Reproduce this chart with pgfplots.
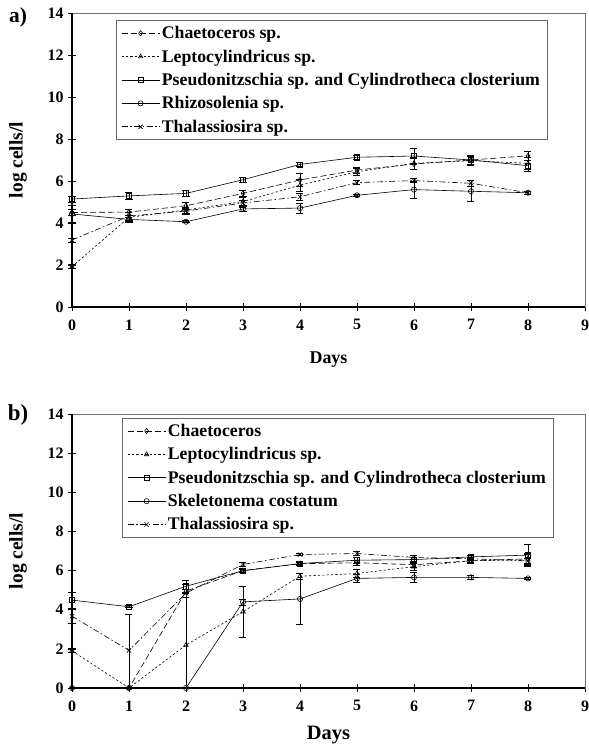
\documentclass[border=0pt]{standalone}
\usepackage{fontspec}
\setmainfont{Liberation Serif}
\usepackage{pgfplots}
\pgfplotsset{compat=1.18}
\newcommand{\tf}{\bfseries\fontsize{16}{19}\selectfont}
\newcommand{\lf}{\bfseries\fontsize{17.8}{20}\selectfont}
\pgfplotsset{
  myaxis/.style={
    scale only axis, width=513bp,
    xmin=0, xmax=9, ymin=0, ymax=14,
    xtick={0,...,9}, ytick={0,2,...,14},
    anchor=origin, clip=false,
    axis line style={draw=black!55, line width=0.6bp},
    tick style={black, line width=0.8bp},
    major tick length=8bp, tick align=center,
    xtick pos=bottom, ytick pos=left,
    tick label style={font=\tf},
    /pgf/number format/assume math mode=true,
    xticklabel style={yshift=-5bp},
    yticklabel style={xshift=-1bp},
    legend style={draw=black!60, line width=0.6bp, font=\lf, anchor=north west,
      row sep=5.6bp, inner xsep=5bp, inner ysep=4bp, cells={anchor=west}},
    legend image code/.code={\draw[mark repeat=2,mark phase=2,##1] plot coordinates {(0bp,0bp) (19bp,0bp) (38bp,0bp)};},
  },
  base/.style={black, line width=0.6bp, mark size=2.6bp,
      mark options={solid, fill=white},
      error bars/y dir=both, error bars/y explicit,
      error bars/error bar style={line width=0.6bp, solid},
      error bars/error mark options={rotate=90, mark size=3.5bp, line width=0.6bp, solid}},
  chae/.style={base, dash pattern=on 6bp off 3bp, mark=diamond},
  lept/.style={base, dash pattern=on 2.2bp off 2.2bp, mark=triangle},
  pseu/.style={base, solid, mark=square},
  rhiz/.style={base, solid, mark=o},
  thal/.style={base, dash pattern=on 6bp off 2.5bp on 1.5bp off 2.5bp, mark=x, mark size=3bp},
}
\begin{document}
\begin{tikzpicture}
\path[use as bounding box] (0,0) rectangle (589bp,750bp);
% ---------- panel a ----------
\begin{axis}[myaxis, height=294bp, at={(72bp,443bp)},
  legend style={at={(rel axis cs:0.0858,0.976)}}]
\addplot[chae] coordinates {(0,4.50)+-(0,0.15) (1,4.52)+-(0,0.15) (2,4.82)+-(0,0.15) (3,5.41)+-(0,0.15) (4,6.05)+-(0,0.3) (5,6.52)+-(0,0.15) (6,6.81)+-(0,0.25) (7,7.00)+-(0,0.2) (8,7.20)+-(0,0.2)};
\addlegendentry{Chaetoceros sp.}
\addplot[lept] coordinates {(0,1.92)+-(0,0.1) (1,4.27)+-(0,0.25) (2,4.62)+-(0,0.15) (3,5.02)+-(0,0.2) (4,5.80)+-(0,0.3) (5,6.44)+-(0,0.15) (6,6.84)+-(0,0.3) (7,6.97)+-(0,0.2) (8,6.84)+-(0,0.3)};
\addlegendentry{Leptocylindricus sp.}
\addplot[pseu] coordinates {(0,5.14)+-(0,0.15) (1,5.29)+-(0,0.15) (2,5.41)+-(0,0.15) (3,6.06)+-(0,0.1) (4,6.79)+-(0,0.1) (5,7.13)+-(0,0.1) (6,7.19)+-(0,0.35) (7,7.00)+-(0,0.2) (8,6.73)+-(0,0.25)};
\addlegendentry{Pseudonitzschia sp. and Cylindrotheca closterium}
\addplot[rhiz] coordinates {(0,4.43)+-(0,0.4) (1,4.17)+-(0,0.1) (2,4.06)+-(0,0.05) (3,4.67)+-(0,0.1) (4,4.71)+-(0,0.25) (5,5.32)+-(0,0.05) (6,5.59)+-(0,0.4) (7,5.51)+-(0,0.5) (8,5.44)+-(0,0.05)};
\addlegendentry{Rhizosolenia sp.}
\addplot[thal] coordinates {(0,3.19)+-(0,0.1) (1,4.33)+-(0,0.2) (2,4.57)+-(0,0.15) (3,4.95)+-(0,0.15) (4,5.25)+-(0,0.15) (5,5.92)+-(0,0.1) (6,6.02)+-(0,0.1) (7,5.89)+-(0,0.15) (8,5.44)+-(0,0.05)};
\addlegendentry{Thalassiosira sp.}
\draw[line width=1.6bp] (rel axis cs:0,1) -- (rel axis cs:0,0);
\draw[line width=1.1bp] (rel axis cs:0,0) -- (rel axis cs:1,0);
\node[font=\bfseries\fontsize{18}{21}\selectfont] at ([yshift=-53bp]rel axis cs:0.5,0) {Days};
\node[rotate=90, font=\bfseries\fontsize{19.5}{22}\selectfont] at ([xshift=-54bp]rel axis cs:0,0.5) {log cells/l};
\node[font=\bfseries\fontsize{21.5}{24}\selectfont] at ([xshift=-54bp,yshift=-4bp]rel axis cs:0,1) {a)};
\end{axis}
% ---------- panel b ----------
\begin{axis}[myaxis, height=274bp, at={(72bp,62bp)},
  legend style={at={(rel axis cs:0.0975,0.986)}}]
\addplot[chae] coordinates {(0,0) (1,0) (2,4.95)+-(0,0.1) (3,6.00)+-(0,0.1) (4,6.35)+-(0,0.1) (5,6.40)+-(0,0.15) (6,6.30)+-(0,0.15) (7,6.50)+-(0,0.1) (8,6.60)+-(0,0.3)};
\addlegendentry{Chaetoceros}
\addplot[lept] coordinates {(0,1.90)+-(0,0.1) (1,0) (2,2.20)+=(0,3.1)-=(0,2.2) (3,3.90)+-(0,1.3) (4,5.71)+-(0,0.15) (5,5.85)+-(0,0.2) (6,6.20)+-(0,0.2) (7,6.50)+-(0,0.15) (8,6.55)+-(0,0.3)};
\addlegendentry{Leptocylindricus sp.}
\addplot[pseu] coordinates {(0,4.49)+-(0,0.4) (1,4.15)+-(0,0.05) (2,5.20)+-(0,0.3) (3,5.99)+-(0,0.1) (4,6.36)+-(0,0.05) (5,6.53)+-(0,0.15) (6,6.56)+-(0,0.2) (7,6.70)+-(0,0.1) (8,6.79)+-(0,0.55)};
\addlegendentry{Pseudonitzschia sp. and Cylindrotheca closterium}
\addplot[rhiz] coordinates {(0,0) (1,0) (2,0) (3,4.40)+-(0,0.15) (4,4.55)+-(0,1.3) (5,5.60)+-(0,0.2) (6,5.65)+-(0,0.25) (7,5.65)+-(0,0.1) (8,5.60)+-(0,0.05)};
\addlegendentry{Skeletonema costatum}
\addplot[thal] coordinates {(0,3.67)+-(0,0.35) (1,1.92)+=(0,1.85)-=(0,1.92) (2,4.85)+-(0,0.2) (3,6.31)+-(0,0.1) (4,6.82)+-(0,0.05) (5,6.87)+-(0,0.1) (6,6.67)+-(0,0.1) (7,6.60)+-(0,0.1) (8,6.50)+-(0,0.15)};
\addlegendentry{Thalassiosira sp.}
\draw[line width=1.6bp] (rel axis cs:0,1) -- (rel axis cs:0,0) -- (rel axis cs:1,0);
\node[font=\bfseries\fontsize{20.5}{23}\selectfont] at ([yshift=-47bp]rel axis cs:0.5,0) {Days};
\node[rotate=90, font=\bfseries\fontsize{19.5}{22}\selectfont] at ([xshift=-54bp]rel axis cs:0,0.5) {log cells/l};
\node[font=\bfseries\fontsize{23}{26}\selectfont] at ([xshift=-54bp,yshift=-1bp]rel axis cs:0,1) {b)};
\end{axis}
\end{tikzpicture}
\end{document}
